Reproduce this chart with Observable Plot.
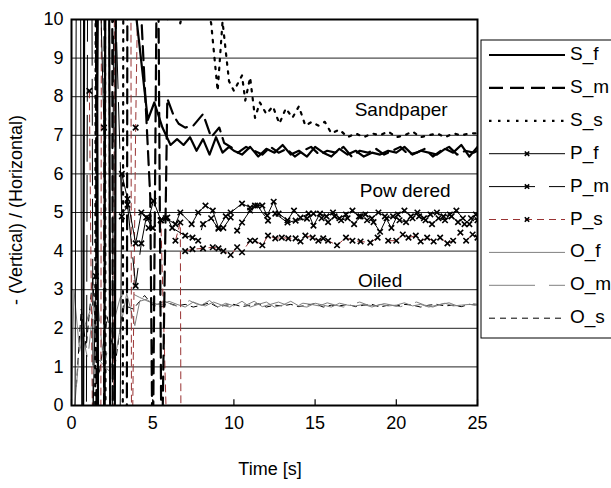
<!DOCTYPE html>
<html>
<head>
<meta charset="utf-8">
<script src="https://cdn.jsdelivr.net/npm/d3@7"></script>
<script src="https://cdn.jsdelivr.net/npm/@observablehq/plot@0.6"></script>
<style>
  html, body { margin: 0; padding: 0; background: white; }
  #wrap { position: relative; width: 611px; height: 488px; overflow: hidden; font-family: "Liberation Sans", Arial, sans-serif; }
</style>
</head>
<body>
<div id="wrap"></div>
<script>
// ---------- DATA ----------
const xTicks = [0, 5, 10, 15, 20, 25];
const yTicks = [0, 1, 2, 3, 4, 5, 6, 7, 8, 9, 10];
const seriesNames = ["S_f", "S_m", "S_s", "P_f", "P_m", "P_s", "O_f", "O_m", "O_s"];
const annoLabels = ["Sandpaper", "Pow dered", "Oiled"];
const annoX = [20.3, 20.55, 19.0];
const annoY = [7.67, 5.55, 3.24];

const sfT = [0.7, 0.8, 1.55, 1.65, 2.0, 2.1, 2.3, 2.4, 2.65, 2.75, 3.75, 3.9, 4.7, 5.1, 5.6, 6.1, 6.5, 6.9, 7.3, 7.7, 8.1, 8.5, 8.9, 9.3, 9.7, 10.0, 10.5, 11.0, 11.5, 12.0, 12.5, 13.0, 13.5, 14.0, 14.5, 15.0, 15.5, 16.0, 16.5, 17.0, 17.5, 18.0, 18.5, 19.0, 19.5, 20.0, 20.5, 21.0, 21.5, 22.0, 22.5, 23.0, 23.5, 24.0, 24.5, 25.0];
const sfV = [-3, 14, 14, -3, -3, 14, 14, -3, -3, 14, 14, 10.4, 7.4, 7.85, 7.2, 6.75, 6.9, 6.75, 6.95, 6.6, 6.9, 6.5, 6.95, 6.55, 6.7, 6.6, 6.5, 6.7, 6.45, 6.65, 6.55, 6.75, 6.5, 6.6, 6.45, 6.7, 6.55, 6.45, 6.65, 6.5, 6.6, 6.45, 6.55, 6.5, 6.6, 6.55, 6.7, 6.5, 6.6, 6.55, 6.5, 6.65, 6.55, 6.75, 6.45, 6.7];

const smT = [1.5, 1.55, 2.0, 2.05, 2.5, 2.55, 3.4, 3.45, 4.25, 4.85, 5.0, 5.3, 5.55, 5.9, 6.3, 6.6, 7.0, 7.5, 8.1, 8.6, 9.1, 9.4, 9.8, 10.25, 10.75, 11.25, 11.75, 12.25, 12.75, 13.25, 13.75, 14.25, 14.75, 15.25, 15.75, 16.25, 16.75, 17.25, 17.75, 18.25, 18.75, 19.25, 19.75, 20.25, 20.75, 21.25, 21.75, 22.25, 22.75, 23.25, 23.75, 24.25, 24.75, 25.0];
const smV = [14, -3, -3, 14, 14, -3, -3, 14, 10.5, 5.4, -2, 14, -2, 7.95, 7.5, 7.3, 7.2, 7.25, 7.55, 6.95, 7.2, 6.8, 6.7, 6.55, 6.7, 6.6, 6.5, 6.7, 6.55, 6.65, 6.45, 6.6, 6.7, 6.5, 6.6, 6.55, 6.7, 6.45, 6.6, 6.55, 6.65, 6.5, 6.6, 6.7, 6.5, 6.55, 6.65, 6.45, 6.6, 6.7, 6.5, 6.6, 6.55, 6.6];

const ssT = [1.45, 1.5, 2.05, 2.1, 3.15, 3.2, 5.0, 5.9, 6.3, 6.7, 7.2, 8.0, 8.6, 9.0, 9.3, 9.7, 10.0, 10.5, 10.7, 11.0, 11.3, 11.6, 12.0, 12.4, 12.8, 13.2, 13.6, 14.0, 14.4, 14.8, 15.2, 15.6, 16.0, 16.5, 17.0, 17.5, 18.0, 18.5, 19.0, 19.5, 20.0, 20.5, 21.0, 21.5, 22.0, 22.5, 23.0, 23.5, 24.0, 24.5, 25.0];
const ssV = [-3, 14, 14, -3, -3, 14, 12, 9.95, 11, 9.9, 11, 11, 9.9, 8.15, 9.95, 8.4, 8.15, 8.55, 7.9, 8.5, 7.45, 7.85, 7.55, 7.75, 7.3, 7.7, 7.45, 7.75, 7.25, 7.35, 7.25, 7.35, 7.05, 7.15, 6.95, 7.05, 6.95, 7.05, 7.0, 7.1, 6.95, 7.0, 7.1, 6.95, 7.0, 7.05, 6.95, 7.05, 7.0, 7.05, 7.05];

const pfT = [0.2, 0.3, 0.55, 0.65, 1.2, 1.5, 1.7, 2.0, 2.1, 2.95, 3.1, 3.45, 3.95, 4.3, 4.75, 5.05, 5.5, 5.8, 6.4, 6.7, 7.4, 7.8, 8.25, 8.7, 9.05, 9.5, 9.8, 10.5, 11.0, 11.3, 11.75, 12.05, 12.45, 12.75, 13.3, 13.7, 14.1, 14.6, 14.9, 15.3, 15.7, 16.1, 16.5, 16.9, 17.3, 17.7, 18.1, 18.5, 18.9, 19.3, 19.7, 20.1, 20.5, 20.9, 21.3, 21.7, 22.1, 22.5, 22.9, 23.3, 23.7, 24.1, 24.5, 24.9];
const pfV = [-3, 12, 12, -3, -3, 3.35, 12, 7.2, -3, -3, 6.0, 5.35, 4.2, 5.0, 4.85, 5.3, 4.8, 4.85, 4.7, 5.0, 4.7, 5.0, 5.18, 5.05, 4.6, 4.9, 5.0, 5.23, 5.13, 5.18, 5.18, 4.92, 5.28, 4.97, 4.8, 5.05, 4.87, 4.97, 4.66, 4.97, 4.9, 5.0, 4.85, 4.95, 5.05, 4.9, 4.95, 4.85, 5.0, 4.9, 4.6, 4.95, 5.05, 4.9, 5.0, 4.85, 4.95, 5.0, 4.9, 4.95, 5.05, 4.85, 4.7, 4.95];

const pmT = [0.9, 1.0, 1.25, 1.35, 2.5, 2.6, 3.1, 3.45, 3.95, 4.3, 4.6, 5.0, 5.5, 5.9, 6.2, 7.0, 7.45, 7.8, 8.1, 8.6, 9.05, 9.35, 9.8, 10.2, 10.5, 11.0, 11.45, 12.1, 12.55, 13.3, 13.8, 14.5, 14.9, 15.4, 15.8, 16.2, 16.6, 17.0, 17.4, 17.8, 18.2, 18.6, 19.0, 19.4, 19.8, 20.2, 20.6, 21.0, 21.4, 21.8, 22.2, 22.6, 23.0, 23.4, 23.8, 24.2, 24.6, 25.0];
const pmV = [-3, 12, 12, -3, -3, 12, 4.9, 5.2, 3.1, 4.2, 4.87, 4.6, 4.8, 4.87, 4.6, 4.4, 4.35, 4.27, 4.7, 4.85, 4.58, 4.6, 4.87, 4.53, 4.74, 5.05, 5.18, 4.79, 4.97, 4.74, 4.79, 4.84, 4.97, 4.85, 4.75, 4.9, 4.8, 4.85, 4.7, 4.9, 4.8, 4.75, 4.5, 4.85, 4.9, 4.8, 4.75, 4.85, 4.9, 4.8, 4.7, 4.85, 4.8, 4.9, 4.75, 4.7, 4.85, 4.8];

const psT = [1.1, 1.35, 1.8, 1.85, 2.3, 2.35, 2.6, 2.65, 3.65, 3.7, 3.95, 4.2, 4.5, 4.75, 5.0, 5.5, 5.95, 6.1, 6.4, 6.7, 6.75, 6.9, 7.0, 7.45, 8.1, 8.7, 9.05, 9.35, 9.8, 10.2, 10.5, 11.0, 11.3, 11.75, 12.1, 12.55, 12.95, 13.35, 13.8, 14.1, 14.4, 14.85, 15.2, 15.5, 15.8, 16.35, 16.9, 17.3, 17.8, 18.4, 18.85, 19.2, 19.5, 20.0, 20.4, 20.75, 21.2, 21.5, 21.9, 22.3, 22.7, 23.15, 23.5, 23.95, 24.3, 24.7, 25.0];
const psV = [8.15, -3, -3, 14, 14, -3, -3, 14, 14, -3, 7.2, 14, NaN, 4.6, 4.6, 4.8, -2, NaN, 4.27, 4.74, -2, NaN, 4.0, 4.05, 4.07, 4.1, 4.07, 4.0, 3.9, 4.1, 3.97, 4.27, 4.27, 4.15, 4.4, 4.33, 4.35, 4.33, 4.33, 4.25, 4.4, 4.35, 4.27, 4.33, 4.27, 4.15, 4.35, 4.27, 4.25, 4.22, 4.35, NaN, 4.27, 4.27, 4.43, 4.35, 4.4, 4.25, 4.35, 4.25, 4.35, 4.2, 4.27, 4.48, 4.27, 4.43, 4.35];

const ofT = [0, 0.15, 0.5, 0.85, 1.35, 1.65, 2.3, 2.7, 3.4, 3.9, 4.2, 4.6, 5.0, 5.5, 6.0, 6.5, 7.0, 7.5, 8.0, 8.5, 9.0, 9.5, 10.0, 10.5, 11.0, 11.5, 12.0, 12.5, 13.0, 13.5, 14.0, 14.5, 15.0, 15.5, 16.0, 16.5, 17.0, 17.5, 18.0, 18.5, 19.0, 19.5, 20.0, 20.5, 21.0, 21.5, 22.0, 22.5, 23.0, 23.5, 24.0, 24.5, 25.0];
const ofV = [0, 3.0, 1.4, 2.1, 2.7, 1.2, 0.9, 1.3, 2.9, 2.07, 2.7, 2.75, 2.65, 2.6, 2.7, 2.62, 2.55, 2.68, 2.6, 2.72, 2.55, 2.65, 2.58, 2.7, 2.55, 2.62, 2.68, 2.55, 2.6, 2.7, 2.58, 2.55, 2.65, 2.6, 2.55, 2.65, 2.6, 2.58, 2.62, 2.55, 2.62, 2.58, 2.6, 2.66, 2.58, 2.62, 2.55, 2.6, 2.65, 2.58, 2.6, 2.62, 2.6];

const omT = [0.2, 0.6, 1.0, 1.5, 2.0, 2.5, 3.0, 3.5, 4.2, 4.7, 5.25, 5.75, 6.25, 6.75, 7.25, 7.75, 8.25, 8.75, 9.25, 9.75, 10.25, 10.75, 11.25, 11.75, 12.25, 12.75, 13.25, 13.75, 14.25, 14.75, 15.25, 15.75, 16.25, 16.75, 17.25, 17.75, 18.25, 18.75, 19.25, 19.75, 20.25, 20.75, 21.25, 21.75, 22.25, 22.75, 23.25, 23.75, 24.25, 24.75, 25.0];
const omV = [0, 2.0, 1.2, 3.2, 1.0, 2.0, 2.8, 2.95, 2.8, 2.7, 2.62, 2.7, 2.6, 2.55, 2.72, 2.62, 2.58, 2.68, 2.6, 2.55, 2.66, 2.6, 2.7, 2.56, 2.62, 2.68, 2.6, 2.55, 2.65, 2.62, 2.58, 2.66, 2.6, 2.55, 2.62, 2.68, 2.6, 2.58, 2.64, 2.6, 2.56, 2.62, 2.68, 2.6, 2.55, 2.62, 2.66, 2.58, 2.6, 2.64, 2.62];

const osT = [0.3, 0.6, 0.9, 1.3, 1.7, 2.2, 2.7, 3.2, 3.8, 4.5, 5.0, 5.5, 6.0, 6.5, 7.0, 7.5, 8.0, 8.5, 9.0, 9.5, 10.0, 10.5, 11.0, 11.5, 12.0, 12.5, 13.0, 13.5, 14.0, 14.5, 15.0, 15.5, 16.0, 16.5, 17.0, 17.5, 18.0, 18.5, 19.0, 19.5, 20.0, 20.5, 21.0, 21.5, 22.0, 22.5, 23.0, 23.5, 24.0, 24.5, 25.0];
const osV = [0.5, 2.5, 1.5, 3.3, 0.8, 2.3, 1.1, 2.6, 2.5, 2.85, 2.6, 2.55, 2.65, 2.58, 2.62, 2.55, 2.6, 2.66, 2.55, 2.6, 2.62, 2.56, 2.6, 2.64, 2.55, 2.6, 2.58, 2.62, 2.56, 2.6, 2.64, 2.55, 2.6, 2.58, 2.62, 2.56, 2.6, 2.62, 2.55, 2.6, 2.58, 2.62, 2.6, 2.55, 2.6, 2.62, 2.58, 2.6, 2.56, 2.62, 2.6];

// ---------- STYLES ----------
const RED = "#993333", GRAY = "#808080";
const styles = {
  S_f: {stroke: "black", width: 2.2, dash: null, marker: false},
  S_m: {stroke: "black", width: 2.2, dash: "14,7", marker: false},
  S_s: {stroke: "black", width: 2.2, dash: "2.5,6.5", marker: false},
  P_f: {stroke: "black", width: 1, dash: null, marker: true},
  P_m: {stroke: "black", width: 1, dash: "46,14", marker: true},
  P_s: {stroke: RED, width: 1, dash: "7,5", marker: true},
  O_f: {stroke: GRAY, width: 1, dash: null, marker: false},
  O_m: {stroke: GRAY, width: 1, dash: "46,14", marker: false},
  O_s: {stroke: "black", width: 1, dash: "6,5", marker: false}
};
const seriesData = {
  S_f: [sfT, sfV], S_m: [smT, smV], S_s: [ssT, ssV],
  P_f: [pfT, pfV], P_m: [pmT, pmV], P_s: [psT, psV],
  O_f: [ofT, ofV], O_m: [omT, omV], O_s: [osT, osV]
};

const rows = name => seriesData[name][0].map((t, i) => ({t, v: seriesData[name][1][i], name}));

const drawOrder = ["O_s", "O_m", "O_f", "P_s", "P_m", "P_f", "S_s", "S_m", "S_f"];
const lineMarks = [];
for (const name of drawOrder) {
  const s = styles[name];
  lineMarks.push(Plot.line(rows(name), {
    x: "t", y: "v", stroke: s.stroke, strokeWidth: s.width,
    strokeDasharray: s.dash || undefined, strokeLinejoin: "round", clip: true
  }));
}
for (const name of drawOrder) {
  if (!styles[name].marker) continue;
  lineMarks.push(Plot.dot(rows(name).filter(d => Number.isFinite(d.v)), {
    x: "t", y: "v", symbol: "times", r: 2.6, stroke: "black", strokeWidth: 1.6, clip: true
  }));
}

const chart = Plot.plot({
  width: 611, height: 488,
  marginLeft: 71, marginRight: 134, marginTop: 19, marginBottom: 83,
  style: {fontFamily: "'Liberation Sans', Arial, sans-serif", fontSize: "18px", background: "white", color: "black", overflow: "visible"},
  x: {domain: [0, 25]},
  y: {domain: [0, 10]},
  marks: [
    Plot.ruleY(yTicks, {y: d => d, stroke: "#222", strokeWidth: 1}),
    ...lineMarks,
    Plot.ruleX(xTicks, {x: d => d, y1: 0, y2: 0.15, stroke: "black", strokeWidth: 1.2}),
    Plot.text(annoLabels, {x: (d, i) => annoX[i], y: (d, i) => annoY[i], text: d => d, fontSize: 19, fill: "black"}),
    Plot.frame({stroke: "black", strokeWidth: 2}),
    Plot.axisX({ticks: xTicks, tickSize: 0, tickPadding: 11, label: null, fontSize: 18}),
    Plot.axisY({ticks: yTicks, tickSize: 0, tickPadding: 8, label: null, fontSize: 18})
  ]
});

const wrap = document.getElementById("wrap");
wrap.appendChild(chart);

const svg = d3.select(chart);
svg.append("text")
  .attr("x", 270).attr("y", 470)
  .attr("text-anchor", "middle").attr("dominant-baseline", "middle")
  .attr("font-size", 18).attr("fill", "black")
  .text("Time [s]");
svg.append("text")
  .attr("transform", "translate(17,210) rotate(-90)")
  .attr("text-anchor", "middle").attr("dominant-baseline", "middle")
  .attr("font-size", 18).attr("fill", "black")
  .text("- (Vertical) / (Horizontal)");

// ---------- LEGEND ----------
const leg = d3.select(wrap).append("svg")
  .attr("width", 611).attr("height", 488)
  .style("position", "absolute").style("left", "0px").style("top", "0px");
leg.append("rect").attr("x", 481).attr("y", 40).attr("width", 200).attr("height", 298)
  .attr("fill", "white").attr("stroke", "black").attr("stroke-width", 1);
seriesNames.forEach((name, i) => {
  const s = styles[name];
  const y = 55 + i * 32.9;
  leg.append("line").attr("x1", 489).attr("x2", 565).attr("y1", y).attr("y2", y)
    .attr("stroke", s.stroke).attr("stroke-width", s.width)
    .attr("stroke-dasharray", s.dash);
  if (s.marker) {
    leg.append("path").attr("d", `M${527 - 2.2},${y - 2.2}L${527 + 2.2},${y + 2.2}M${527 - 2.2},${y + 2.2}L${527 + 2.2},${y - 2.2}`)
      .attr("stroke", "black").attr("stroke-width", 1.6);
  }
  leg.append("text").attr("x", 570).attr("y", y)
    .attr("dominant-baseline", "middle").attr("font-size", 19)
    .attr("font-family", "'Liberation Sans', Arial, sans-serif")
    .text(name);
});
</script>
</body>
</html>
